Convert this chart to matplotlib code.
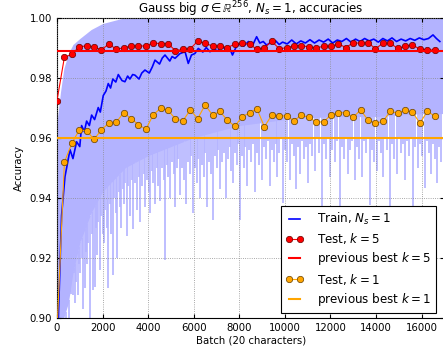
import numpy as np
import matplotlib
matplotlib.use("Agg")
import matplotlib.pyplot as plt

# smoothed train accuracy (blue line)
train_x = [0, 60, 200, 350, 450, 570, 700, 860, 1000, 1080, 1200, 1300, 1420, 1520, 1650, 1810,
           1900, 2030, 2150, 2250, 2350, 2450, 2580, 2690, 2850, 2980, 3100, 3200, 3320, 3420,
           3600, 3720, 3860, 4050, 4180, 4300, 4500, 4620, 4740, 4950, 5050, 5180, 5400, 5620,
           5760, 5900, 6050, 6200, 6400, 6550, 6710, 6900, 7050, 7220, 7400, 7550, 7700, 7850,
           8030, 8200, 8400, 8600, 8760, 8900, 9050, 9200, 9400, 9600, 9750, 9900, 10100, 10300,
           10500, 10700, 10900, 11100, 11300, 11500, 11700, 11900, 12100, 12300, 12500, 12700,
           12900, 13100, 13300, 13500, 13700, 13900, 14100, 14300, 14500, 14700, 14900, 15100,
           15300, 15500, 15700, 15900, 16100, 16300, 16500, 16650, 16800]
train_y = [0.880, 0.900, 0.934, 0.947, 0.951, 0.956, 0.953, 0.9586, 0.957, 0.964, 0.962, 0.9655,
           0.964, 0.9675, 0.966, 0.970, 0.9685, 0.974, 0.9755, 0.978, 0.9765, 0.9795, 0.9785,
           0.981, 0.979, 0.9786, 0.9805, 0.9795, 0.981, 0.9808, 0.9795, 0.9815, 0.9825, 0.9815,
           0.9835, 0.9858, 0.9845, 0.9865, 0.9875, 0.9855, 0.987, 0.9864, 0.988, 0.9886, 0.9847,
           0.9875, 0.988, 0.9897, 0.9885, 0.9900, 0.9886, 0.9895, 0.9888, 0.9908, 0.9892, 0.9903,
           0.9875, 0.9900, 0.9914, 0.9905, 0.9920, 0.9910, 0.9936, 0.9915, 0.9920, 0.9908, 0.9918,
           0.9922, 0.9910, 0.9918, 0.9912, 0.9925, 0.9912, 0.9922, 0.9915, 0.9926, 0.9915, 0.9925,
           0.9918, 0.9928, 0.9915, 0.9925, 0.9920, 0.9930, 0.9918, 0.9928, 0.9920, 0.9930, 0.9922,
           0.9928, 0.9918, 0.9930, 0.9922, 0.9932, 0.9920, 0.9928, 0.9922, 0.9930, 0.9924, 0.9932,
           0.9926, 0.9930, 0.9942, 0.9930, 0.9920]

# raw per-batch train accuracy: dense band edges and the deeper dips
band_x = [0, 150, 300, 500, 700, 1000, 1500, 2000, 2500, 3000, 3500, 4000, 5000, 6000, 7000,
          8000, 9000, 10000, 12000, 14000, 16000, 17000]
band_hi = [0.965, 0.975, 0.983, 0.988, 0.991, 0.993, 0.996, 0.998, 0.999, 1.0, 1.0, 1.0, 1.0,
           1.0, 1.0, 1.0, 1.0, 1.0, 1.0, 1.0, 1.0, 1.0]
band_lo = [0.90, 0.90, 0.90, 0.905, 0.915, 0.925, 0.935, 0.942, 0.946, 0.950, 0.952, 0.954,
           0.957, 0.960, 0.962, 0.964, 0.965, 0.966, 0.967, 0.967, 0.968, 0.968]
dip_x = [380, 450, 520, 570, 630, 702, 750, 790, 850, 921, 960, 1009, 1080, 1154, 1229, 1270,
         1316, 1380, 1448, 1520, 1593, 1667, 1710, 1755, 1820, 1887, 1950, 2000, 2062, 2120,
         2180, 2251, 2310, 2369, 2457, 2520, 2580, 2633, 2700, 2750, 2808, 2880, 2950, 3000,
         3058, 3130, 3203, 3280, 3348, 3420, 3510, 3580, 3642, 3720, 3800, 3861, 3950, 4020,
         4081, 4150, 4230, 4300, 4380, 4450, 4519, 4600, 4680, 4739, 4820, 4890, 4958, 5050,
         5120, 5178, 5260, 5330, 5397, 5480, 5560, 5660, 5740, 5820, 5900, 5968, 6050, 6130,
         6200, 6275, 6350, 6430, 6500, 6582, 6660, 6750, 6845, 6920, 7000, 7080, 7152, 7230,
         7320, 7416, 7500, 7580, 7650, 7723, 7800, 7900, 7960, 8030, 8100, 8200, 8270, 8337,
         8420, 8500, 8600, 8688, 8780, 8870, 8995, 9080, 9170, 9260, 9346, 9430, 9520, 9600,
         9653, 9750, 9830, 9917, 10000, 10100, 10224, 10300, 10400, 10487, 10580, 10663, 10750,
         10850, 10930, 11014, 11100, 11200, 11321, 11400, 11500, 11628, 11700, 11800, 11900,
         11979, 12080, 12180, 12280, 12418, 12500, 12600, 12690, 12769, 12850, 12950, 13076,
         13160, 13250, 13383, 13460, 13550, 13650, 13734, 13820, 13920, 14041, 14130, 14220,
         14305, 14400, 14500, 14612, 14700, 14800, 14919, 15000, 15100, 15180, 15270, 15360,
         15450, 15540, 15621, 15700, 15840, 15930, 16030, 16148, 16250, 16330, 16411, 16500,
         16600, 16674, 16760, 16850]
dip_lo = [0.900, 0.905, 0.900, 0.9125, 0.908, 0.9075, 0.915, 0.905, 0.912, 0.9075, 0.918, 0.915,
          0.920, 0.9028, 0.910, 0.922, 0.918, 0.925, 0.900, 0.928, 0.9092, 0.9102, 0.930, 0.921,
          0.932, 0.9158, 0.934, 0.928, 0.925, 0.936, 0.930, 0.910, 0.938, 0.928, 0.9142, 0.940,
          0.935, 0.920, 0.942, 0.937, 0.930, 0.943, 0.938, 0.945, 0.9272, 0.944, 0.934, 0.946,
          0.9295, 0.945, 0.936, 0.947, 0.9318, 0.944, 0.948, 0.937, 0.946, 0.942, 0.935, 0.949,
          0.945, 0.938, 0.950, 0.944, 0.939, 0.950, 0.946, 0.9192, 0.951, 0.947, 0.940, 0.952,
          0.948, 0.937, 0.950, 0.953, 0.941, 0.950, 0.946, 0.938, 0.952, 0.948, 0.954, 0.935,
          0.950, 0.945, 0.953, 0.940, 0.951, 0.947, 0.955, 0.937, 0.952, 0.948, 0.9325, 0.954,
          0.950, 0.956, 0.943, 0.952, 0.955, 0.940, 0.953, 0.957, 0.949, 0.945, 0.955, 0.951,
          0.958, 0.9325, 0.954, 0.950, 0.957, 0.944, 0.956, 0.952, 0.958, 0.942, 0.955, 0.951,
          0.946, 0.957, 0.953, 0.959, 0.944, 0.956, 0.952, 0.958, 0.947, 0.955, 0.960, 0.9383,
          0.956, 0.952, 0.946, 0.958, 0.954, 0.943, 0.957, 0.948, 0.959, 0.953, 0.957, 0.945,
          0.958, 0.954, 0.949, 0.960, 0.955, 0.9342, 0.958, 0.953, 0.960, 0.947, 0.956, 0.952,
          0.959, 0.9358, 0.957, 0.953, 0.960, 0.948, 0.956, 0.959, 0.946, 0.957, 0.953, 0.947,
          0.959, 0.955, 0.960, 0.9375, 0.956, 0.952, 0.949, 0.959, 0.955, 0.947, 0.960, 0.956,
          0.9342, 0.958, 0.953, 0.948, 0.960, 0.955, 0.958, 0.946, 0.959, 0.954, 0.960, 0.9358,
          0.957, 0.950, 0.958, 0.954, 0.9433, 0.959, 0.955, 0.948, 0.958, 0.953, 0.945, 0.957,
          0.952]

test_x = [0, 325, 650, 975, 1300, 1625, 1950, 2275, 2600, 2925, 3250, 3575, 3900, 4225, 4550,
          4875, 5200, 5525, 5850, 6175, 6500, 6825, 7150, 7475, 7800, 8125, 8450, 8775, 9100,
          9425, 9750, 10075, 10400, 10725, 11050, 11375, 11700, 12025, 12350, 12675, 13000,
          13325, 13650, 13975, 14300, 14625, 14950, 15275, 15600, 15925, 16250, 16575]
test_k5 = [0.9723, 0.9868, 0.9877, 0.9903, 0.9905, 0.9902, 0.9892, 0.9912, 0.9894, 0.9899,
           0.9905, 0.9905, 0.9905, 0.9916, 0.9912, 0.9913, 0.9889, 0.9894, 0.9896, 0.9921,
           0.9914, 0.9905, 0.9905, 0.9900, 0.9911, 0.9914, 0.9911, 0.9894, 0.9899, 0.9921,
           0.9896, 0.9899, 0.9906, 0.9906, 0.9902, 0.9899, 0.9904, 0.9904, 0.9912, 0.9900,
           0.9916, 0.9914, 0.9916, 0.9896, 0.9914, 0.9914, 0.9897, 0.9904, 0.9909, 0.9894,
           0.9892, 0.9892]
test_k1 = [0.8955, 0.9518, 0.9581, 0.9625, 0.9623, 0.9594, 0.9626, 0.9648, 0.9651, 0.9683,
           0.9663, 0.9643, 0.9628, 0.9676, 0.9698, 0.9691, 0.9662, 0.9656, 0.9692, 0.9663,
           0.9709, 0.9675, 0.9687, 0.9658, 0.9638, 0.9669, 0.9683, 0.9696, 0.9636, 0.9675,
           0.9672, 0.9672, 0.9656, 0.9675, 0.9667, 0.9652, 0.9652, 0.9676, 0.9682, 0.9683,
           0.9668, 0.9692, 0.9658, 0.9648, 0.9654, 0.9687, 0.9682, 0.9692, 0.9685, 0.9648,
           0.9687, 0.9672]
best_k5 = 0.9888
best_k1 = 0.9597

plt.rcParams['font.family'] = ['DejaVu Sans']
plt.rcParams['mathtext.fontset'] = 'dejavusans'

fig = plt.figure(figsize=(4.43, 3.54), dpi=100)
ax = fig.add_axes([57 / 443, 36.3 / 354, 387.4 / 443, 300.2 / 354])

light = '#b3b3ff'
ax.fill_between(band_x, band_lo, band_hi, color=light, lw=0, zorder=1)
dip_top = np.interp(dip_x, band_x, band_lo)
ax.vlines(dip_x, dip_lo, dip_top, color=light, lw=1.2, zorder=1)

ax.plot(train_x, train_y, color='b', lw=1.2, zorder=3, label='Train, $N_s=1$')
ax.plot(test_x, test_k5, color='r', lw=0.8, marker='o', ms=4.6, mec='#660000', mew=0.5,
        zorder=4, label='Test, $k=5$')
ax.axhline(best_k5, color='r', lw=1.5, zorder=4, label='previous best $k=5$')
ax.plot(test_x, test_k1, color='orange', lw=0.8, marker='o', ms=4.6, mec='#664000', mew=0.5,
        zorder=4, label='Test, $k=1$')
ax.axhline(best_k1, color='orange', lw=1.5, zorder=4, label='previous best $k=1$')

ax.set_xlim(0, 17000)
ax.set_ylim(0.90, 1.00)
ax.set_xticks(range(0, 17000, 2000))
ax.set_yticks([0.90, 0.92, 0.94, 0.96, 0.98, 1.00])
ax.set_yticklabels(['0.90', '0.92', '0.94', '0.96', '0.98', '1.00'])
ax.tick_params(direction='in', top=True, right=True, labelsize=7.3, length=3)
ax.grid(True, color='0.55', linestyle=':', lw=0.6, zorder=2.5)
ax.set_axisbelow(False)

ax.set_title(r'Gauss big $\sigma \in \mathbb{R}^{256}$, $N_s = 1$, accuracies', fontsize=8.6, pad=3)
ax.set_xlabel('Batch (20 characters)', fontsize=7.3, labelpad=2)
ax.set_ylabel('Accuracy', fontsize=7.3, labelpad=4)

leg = ax.legend(loc='lower right', bbox_to_anchor=(0.978, 0.017), borderaxespad=0, fontsize=8.6,
                numpoints=2, handlelength=1.5, handletextpad=1.1, fancybox=False, framealpha=1,
                edgecolor='k', labelspacing=0.35, borderpad=0.4)
leg.get_frame().set_linewidth(0.8)
leg.set_zorder(10)

fig.savefig('out.png', dpi=100)
